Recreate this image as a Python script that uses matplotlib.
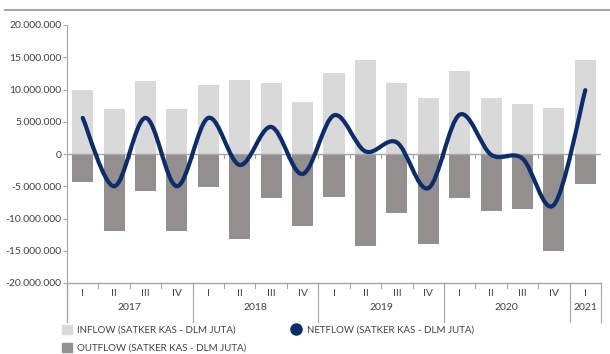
import numpy as np
import matplotlib.pyplot as plt
from matplotlib.path import Path
from matplotlib.patches import PathPatch, Patch
from matplotlib.lines import Line2D
import matplotlib.transforms as mtransforms

plt.rcParams['font.family'] = ['Lato', 'DejaVu Sans']

quarters = ['I', 'II', 'III', 'IV'] * 4 + ['I']
years = ['2017', '2018', '2019', '2020', '2021']
year_spans = [(0, 4), (4, 8), (8, 12), (12, 16), (16, 17)]

# values in million (DLM JUTA)
inflow = [9.9, 7.0, 11.3, 7.0, 10.7, 11.5, 11.0, 8.1, 12.6, 14.6, 11.0, 8.7,
          12.9, 8.7, 7.8, 7.1, 14.6]
outflow = [-4.3, -12.0, -5.7, -12.0, -5.1, -13.2, -6.8, -11.2, -6.6, -14.2, -9.2, -14.0,
           -6.8, -8.8, -8.5, -15.0, -4.7]
netflow = [5.6, -5.0, 5.6, -5.0, 5.6, -1.7, 4.2, -3.1, 6.0, 0.4, 1.8, -5.3,
           6.1, -0.1, -0.7, -7.9, 9.9]

c_in = '#d9d9d9'
c_out = '#948f8f'
c_net = '#0b2d6b'
c_axis = '#a6a6a6'
c_text = '#404040'

fig = plt.figure(figsize=(6.1, 3.54), dpi=100)
ax = fig.add_axes([67 / 610, 1 - 283 / 354, 534 / 610, 258 / 354])

x = np.arange(len(quarters))
scale = 1e6
ax.bar(x, np.array(inflow) * scale, width=0.67, color=c_in, zorder=2)
ax.bar(x, np.array(outflow) * scale, width=0.67, color=c_out, zorder=2)

# smoothed netflow line (Catmull-Rom style, like spreadsheet smoothing)
pts = np.column_stack([x, np.array(netflow) * scale])
verts = [tuple(pts[0])]
codes = [Path.MOVETO]
n = len(pts)
for i in range(n - 1):
    p0 = pts[i - 1] if i > 0 else pts[i]
    p1 = pts[i]
    p2 = pts[i + 1]
    p3 = pts[i + 2] if i + 2 < n else pts[i + 1]
    c1 = p1 + (p2 - p0) / 6
    c2 = p2 - (p3 - p1) / 6
    verts += [tuple(c1), tuple(c2), tuple(p2)]
    codes += [Path.CURVE4] * 3
ax.add_patch(PathPatch(Path(verts, codes), fill=False, edgecolor=c_net, lw=3,
                       capstyle='round', zorder=4))

ax.set_xlim(-0.5, len(quarters) - 0.5)
ax.set_ylim(-20e6, 20e6)
yt = np.arange(-20, 21, 5) * 1e6
ax.set_yticks(yt)
ax.set_yticklabels([f'{int(v):,}'.replace(',', '.') for v in yt], fontsize=7.5, color=c_text)
ax.tick_params(axis='y', length=3, color=c_axis, pad=1)

for s in ['top', 'right', 'bottom']:
    ax.spines[s].set_visible(False)
ax.spines['left'].set_color(c_axis)
ax.spines['left'].set_bounds(-20e6, 20e6)

# zero line with small ticks
ax.axhline(0, color=c_axis, lw=1, zorder=3)
bounds = np.arange(len(quarters) + 1) - 0.5
trans = mtransforms.blended_transform_factory(ax.transData, ax.transAxes)
for b in bounds:
    ax.plot([b, b], [0.5, 0.5 - 4 / 258], color=c_axis, lw=0.8, transform=trans, zorder=3)

# bottom category box
ax.set_xticks(x)
ax.set_xticklabels(quarters, fontsize=7.5, color=c_text)
ax.tick_params(axis='x', length=0, pad=4)
ax.plot([-0.5, len(quarters) - 0.5], [0, 0], color=c_axis, lw=1, transform=trans, clip_on=False)
ax.plot([-0.5, -0.5], [0, -39 / 258], color=c_axis, lw=1, transform=trans, clip_on=False)
for b in bounds:
    ax.plot([b, b], [0, -5 / 258], color=c_axis, lw=0.8, transform=trans, clip_on=False)
for (s, e), yr in zip(year_spans, years):
    ax.plot([e - 0.5, e - 0.5], [0, -39 / 258], color=c_axis, lw=0.8, transform=trans, clip_on=False)
    ax.text((s + e - 1) / 2, -25 / 258, yr, transform=trans, ha='center', va='center',
            fontsize=7.5, color=c_text)

# top rule
fig.add_artist(Line2D([5 / 610, 1], [1 - 10 / 354] * 2, color=c_axis, lw=1.5))

handles = [Patch(color=c_in), Patch(color=c_out),
           Line2D([], [], color=c_net, marker='o', ls='', markersize=8)]
labels = ['INFLOW (SATKER KAS - DLM JUTA)', 'OUTFLOW (SATKER KAS - DLM JUTA)',
          'NETFLOW (SATKER KAS - DLM JUTA)']
fig.legend(handles, labels, ncol=2, loc='upper left', bbox_to_anchor=(57 / 610, 1 - 320 / 354),
           frameon=False, fontsize=7, labelcolor=c_text, handlelength=1.0, handleheight=1.0,
           handletextpad=0.6, columnspacing=4.6, labelspacing=0.85, borderpad=0)

fig.savefig('out.png', dpi=100)
